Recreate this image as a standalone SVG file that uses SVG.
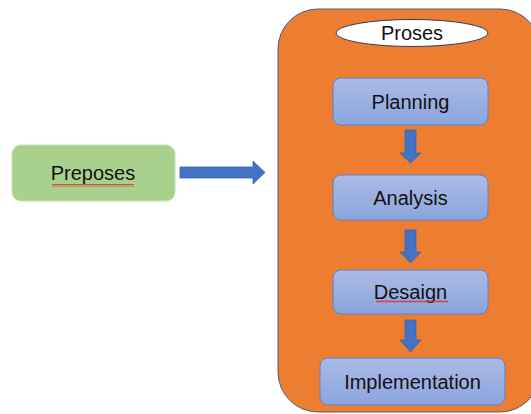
<svg xmlns="http://www.w3.org/2000/svg" width="531" height="414" viewBox="0 0 531 414">
  <defs>
    <linearGradient id="stepFill" x1="0" y1="0" x2="0" y2="1">
      <stop offset="0" stop-color="#abbbe6"/>
      <stop offset="1" stop-color="#8aa5dd"/>
    </linearGradient>
    <pattern id="squiggle" width="4" height="3" patternUnits="userSpaceOnUse">
      <path d="M0 2.5 L1 0.5 L2 2.5 L3 0.5 L4 2.5" fill="none" stroke="#e03030" stroke-width="0.8"/>
    </pattern>
  </defs>
  <style>
    .lbl { font-family: "Liberation Sans", Arial, sans-serif; font-size: 20px; fill: #111; text-anchor: middle; }
    .step { fill: url(#stepFill); stroke: #5b82c9; stroke-width: 1; }
    .arrow { fill: #4472c4; stroke: #3a63ad; stroke-width: 0.8; }
  </style>
  <rect width="531" height="414" fill="#ffffff"/>

  <g id="container">
    <rect x="278" y="9" width="262" height="403" rx="40" ry="40" fill="#ed7d31" stroke="#4a5f7a" stroke-width="1"/>
  </g>

  <g id="proses">
    <ellipse cx="412" cy="33" rx="76" ry="13.5" fill="#ffffff" stroke="#2f3d55" stroke-width="1"/>
    <text class="lbl" x="412" y="40">Proses</text>
  </g>

  <g id="preposes">
    <rect x="12" y="145" width="163" height="56" rx="9" fill="#a9d18e" stroke="#c7dfb7" stroke-width="1"/>
    <text class="lbl" x="93" y="180">Preposes</text>
    <rect x="52" y="184" width="82" height="3" fill="url(#squiggle)"/>
  </g>

  <g id="planning">
    <rect class="step" x="333" y="78" width="155" height="47" rx="8"/>
    <text class="lbl" x="410.5" y="108.5">Planning</text>
  </g>

  <g id="analysis">
    <rect class="step" x="333" y="175" width="155" height="45" rx="8"/>
    <text class="lbl" x="410.5" y="204.5">Analysis</text>
  </g>

  <g id="desaign">
    <rect class="step" x="333" y="270" width="155" height="44" rx="8"/>
    <text class="lbl" x="410.5" y="298.5">Desaign</text>
    <rect x="376" y="300" width="72" height="3" fill="url(#squiggle)"/>
  </g>

  <g id="implementation">
    <rect class="step" x="320" y="358" width="185" height="47" rx="8"/>
    <text class="lbl" x="412.5" y="388.5">Implementation</text>
  </g>

  <g id="connectors">
    <!-- Preposes to Proses -->
    <path class="arrow" d="M180 167 L253 167 L253 161 L265 172.5 L253 184 L253 178 L180 178 Z"/>
    <!-- Planning to Analysis -->
    <path class="arrow" d="M405 130 L416 130 L416 153 L421 153 L410.5 163 L400 153 L405 153 Z"/>
    <!-- Analysis to Desaign -->
    <path class="arrow" d="M405 230 L416 230 L416 252 L421 252 L410.5 263 L400 252 L405 252 Z"/>
    <!-- Desaign to Implementation -->
    <path class="arrow" d="M405 320 L416 320 L416 340 L421 340 L410.5 352 L400 340 L405 340 Z"/>
  </g>
</svg>
